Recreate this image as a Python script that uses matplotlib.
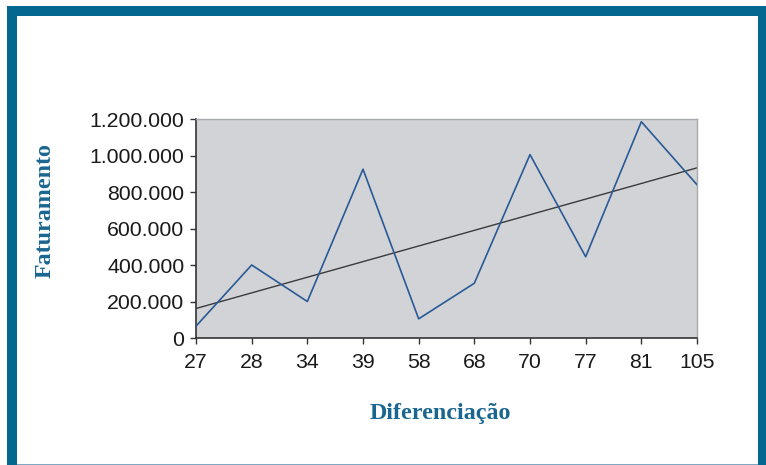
import matplotlib
matplotlib.use("Agg")
import matplotlib.pyplot as plt
import numpy as np
from matplotlib.patches import Rectangle

categories = ["27", "28", "34", "39", "58", "68", "70", "77", "81", "105"]
faturamento = [65000, 400000, 200000, 925000, 105000, 300000, 1005000, 445000, 1185000, 840000]
yticks = [0, 200000, 400000, 600000, 800000, 1000000, 1200000]
ytick_labels = ["0", "200.000", "400.000", "600.000", "800.000", "1.000.000", "1.200.000"]

W, H = 766, 465
fig = plt.figure(figsize=(W / 100, H / 100), dpi=100)
fig.patch.set_facecolor("white")

blue = "#03678f"
# frame border (left, top, right)
fig.patches.append(Rectangle((7 / W, 0), 10 / W, (H - 6) / H, transform=fig.transFigure,
                             facecolor=blue, edgecolor="none", zorder=0))
fig.patches.append(Rectangle((7 / W, 1 - 16 / H), (W - 7) / W, 10 / H, transform=fig.transFigure,
                             facecolor=blue, edgecolor="none", zorder=0))
fig.patches.append(Rectangle((758 / W, 0), (W - 758) / W, (H - 6) / H, transform=fig.transFigure,
                             facecolor=blue, edgecolor="none", zorder=0))
fig.patches.append(Rectangle((17 / W, 0), (758 - 17) / W, 1.5 / H, transform=fig.transFigure,
                             facecolor="#7fa9c3", edgecolor="none", zorder=0))

ax = fig.add_axes([196 / W, 1 - 338 / H, (697 - 196) / W, (338 - 119) / H])
ax.set_facecolor("#d1d3d7")

x = np.arange(len(categories))
ax.plot(x, faturamento, color="#2a5a96", lw=1.2, zorder=3)
coef = np.polyfit(x, faturamento, 1)
ax.plot(x, np.polyval(coef, x), color="#3a3a3a", lw=1.0, zorder=2)

ax.set_xlim(0, len(categories) - 1)
ax.set_ylim(0, 1200000)
ax.set_xticks(x)
ax.set_xticklabels(categories)
ax.set_yticks(yticks)
ax.set_yticklabels(ytick_labels)

font = "Liberation Sans"
for lab in ax.get_xticklabels() + ax.get_yticklabels():
    lab.set_fontfamily(font)
    lab.set_fontsize(15.3)
    lab.set_color("#1a1a1a")

ax.tick_params(axis="both", direction="out", length=4.5, width=1, color="#333333")
ax.tick_params(axis="y", pad=4)
ax.tick_params(axis="x", pad=6.5)

for s in ["left", "bottom"]:
    ax.spines[s].set_color("#333333")
    ax.spines[s].set_linewidth(1.2)
for s in ["top", "right"]:
    ax.spines[s].set_color("#a8aaae")
    ax.spines[s].set_linewidth(1.0)

fig.text(45 / W, 1 - 211 / H, "Faturamento", rotation=90, ha="center", va="center",
         fontfamily="Liberation Serif", fontweight="bold", fontsize=17.3, color="#1a6690")
fig.text(440 / W, 1 - 413 / H, "Diferenciação", ha="center", va="center",
         fontfamily="Liberation Serif", fontweight="bold", fontsize=17.3, color="#1a6690")

fig.savefig("out.png", dpi=100)
